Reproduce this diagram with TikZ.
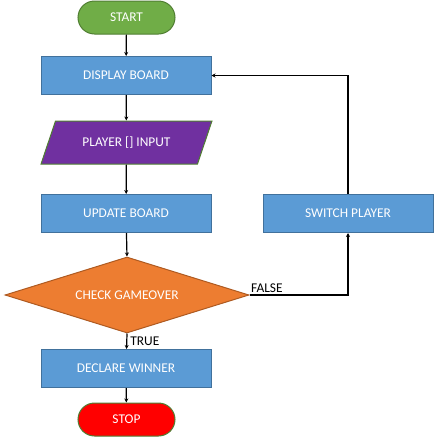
\documentclass[tikz,border=0pt]{standalone}
\usepackage{fontspec}
\setmainfont{Carlito}
\usetikzlibrary{arrows.meta,positioning,shapes.geometric,shapes.misc}
\definecolor{termgreen}{HTML}{70AD47}
\definecolor{termedge}{HTML}{507E32}
\definecolor{procblue}{HTML}{5B9BD5}
\definecolor{procedge}{HTML}{41719C}
\definecolor{iopurple}{HTML}{7030A0}
\definecolor{decorange}{HTML}{ED7D31}
\definecolor{decedge}{HTML}{AE5A21}
\definecolor{stopred}{HTML}{FF0000}

\begin{document}
\begin{tikzpicture}[
  x=1pt, y=1pt,
  >={Stealth[length=4pt,width=4pt]},
  term/.style={rounded rectangle, draw=termedge, fill=#1, line width=1pt, minimum width=97pt, minimum height=33pt, inner sep=0pt, font=\fontsize{13.4}{15}\selectfont, text=white},
  proc/.style={rectangle, draw=procedge, fill=procblue, line width=1pt, minimum width=170pt, minimum height=38pt, inner sep=0pt, font=\fontsize{13.4}{15}\selectfont, text=white},
  io/.style={trapezium, trapezium stretches=true, trapezium left angle=52, trapezium right angle=128, draw=termedge, fill=iopurple, line width=1pt, minimum width=171pt, minimum height=43pt, inner sep=0pt, font=\fontsize{13.4}{15}\selectfont, text=white},
  dec/.style={diamond, aspect=3.2, draw=decedge, fill=decorange, line width=1pt, minimum width=244pt, minimum height=76pt, inner sep=0pt, font=\fontsize{13.4}{15}\selectfont, text=white},
  arr/.style={->, line width=1.2pt, color=black},
  lbl/.style={font=\fontsize{13.4}{15}\selectfont, text=black, inner sep=1pt},
]
\useasboundingbox (0,0) rectangle (434,-437);

\node[term=termgreen] (start) at (126.5,-17.5) {START};
\node[proc] (display) at (126,-75.5) {DISPLAY BOARD};
\node[io] (input) at (126.5,-142.5) {PLAYER [] INPUT};
\node[proc] (update) at (126,-213.5) {UPDATE BOARD};
\node[proc] (switch) at (348,-213.5) {SWITCH PLAYER};
\node[dec] (check) at (127,-295) {CHECK GAMEOVER};
\node[proc] (winner) at (126,-368.5) {DECLARE WINNER};
\node[term=stopred] (stop) at (126.5,-419.5) {STOP};

\draw[arr] (start) -- (display);
\draw[arr] (display) -- (input);
\draw[arr] (input) -- (update);
\draw[arr] (update) -- (check.north);
\draw[arr] (check.south) -- node[lbl, right, xshift=2pt] {TRUE} (winner);
\draw[arr] (winner) -- (stop);
\draw[arr] (check.east) -| node[lbl, pos=0, anchor=south west, yshift=1pt] {FALSE} (switch.south);
\draw[arr] (switch.north) |- (display.east);

\end{tikzpicture}
\end{document}
